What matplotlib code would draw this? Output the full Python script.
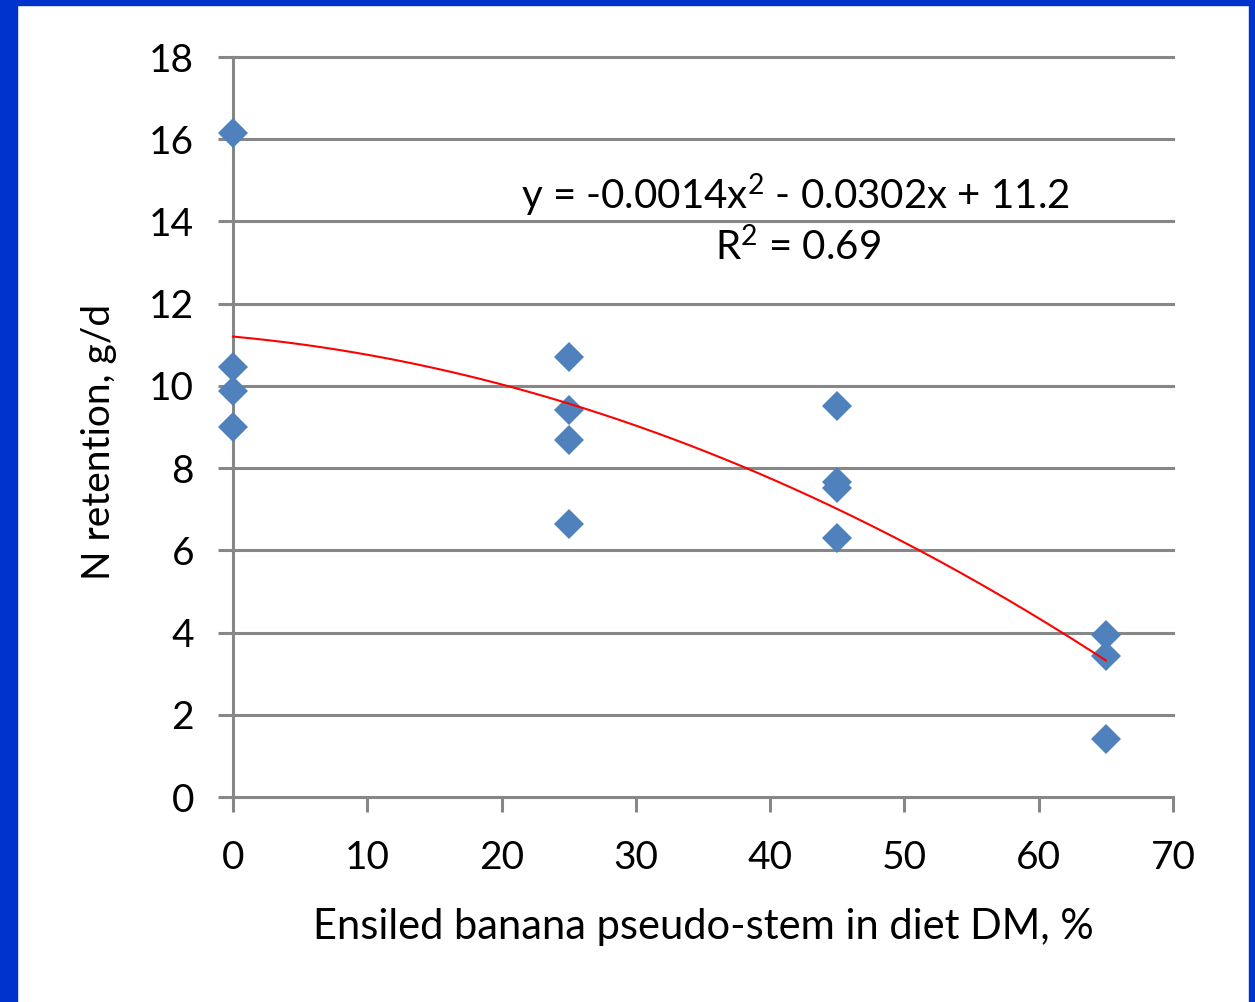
import matplotlib
matplotlib.use("Agg")
import matplotlib.pyplot as plt
import numpy as np

plt.rcParams['font.family'] = ['Lato', 'DejaVu Sans']
plt.rcParams['mathtext.fontset'] = 'custom'
plt.rcParams['mathtext.rm'] = 'Lato'
plt.rcParams['mathtext.it'] = 'Lato:italic'

# Ensiled banana pseudo-stem level (% of diet DM) and N retention (g/d)
banana_pct = [0, 0, 0, 0, 25, 25, 25, 25, 45, 45, 45, 45, 65, 65, 65]
n_retention = [16.15, 10.45, 9.87, 9.0, 10.7, 9.42, 8.68, 6.63,
               9.5, 7.66, 7.51, 6.3, 3.93, 3.44, 1.4]

# Quadratic trend line coefficients (a*x^2 + b*x + c) and fit statistic
coef_a, coef_b, coef_c = -0.0014, -0.0302, 11.2
r_squared = 0.69

x_ticks = [0, 10, 20, 30, 40, 50, 60, 70]
y_ticks = [0, 2, 4, 6, 8, 10, 12, 14, 16, 18]

W, H = 1255, 1002
grid_grey = '#878787'
fig = plt.figure(figsize=(W / 100, H / 100), dpi=100)
fig.patch.set_facecolor('white')

# Blue slide frame on left, top and right
frame_col = '#0033CC'
fig.add_artist(plt.Rectangle((0, 0), 17 / W, 1, transform=fig.transFigure,
                             color=frame_col, zorder=0))
fig.add_artist(plt.Rectangle((0, 1 - 5 / H), 1, 5 / H, transform=fig.transFigure,
                             color=frame_col, zorder=0))
fig.add_artist(plt.Rectangle((1 - 6 / W, 0), 6 / W, 1, transform=fig.transFigure,
                             color=frame_col, zorder=0))

ax = fig.add_axes([233 / W, 205 / H, 940 / W, 740 / H])
ax.set_xlim(0, 70)
ax.set_ylim(0, 18)

for y in y_ticks:
    ax.axhline(y, color=grid_grey, lw=2.2, zorder=1, clip_on=False)

for s in ['top', 'right', 'bottom']:
    ax.spines[s].set_visible(False)
ax.spines['left'].set_color(grid_grey)
ax.spines['left'].set_linewidth(2.2)

ax.set_xticks(x_ticks)
ax.set_yticks(y_ticks)
ax.tick_params(axis='both', colors=grid_grey, width=2.2, length=11,
               labelcolor='black', labelsize=28)
ax.tick_params(axis='x', pad=20)
ax.tick_params(axis='y', pad=17)

xs = np.linspace(0, 65, 200)
ax.plot(xs, coef_a * xs ** 2 + coef_b * xs + coef_c, color='#FF0000', lw=1.5,
        zorder=4, clip_on=False)

ax.plot(banana_pct, n_retention, linestyle='none', marker='D', markersize=15.5,
        color='#4F81BD', markeredgewidth=0, zorder=3, clip_on=False)

fig.text(795 / W, 1 - 195 / H,
         r'y = -0.0014x$\mathregular{^2}$ - 0.0302x + 11.2',
         fontsize=29, ha='center', va='center')
fig.text(798 / W, 1 - 247 / H, r'R$\mathregular{^2}$ = %.2f' % r_squared,
         fontsize=29, ha='center', va='center')

ax.set_xlabel('Ensiled banana pseudo-stem in diet DM, %', fontsize=30, labelpad=23)
ax.set_ylabel('N retention, g/d', fontsize=28)
ax.yaxis.set_label_coords(-0.123, 0.48)

fig.savefig('out.png', dpi=100, facecolor='white')
